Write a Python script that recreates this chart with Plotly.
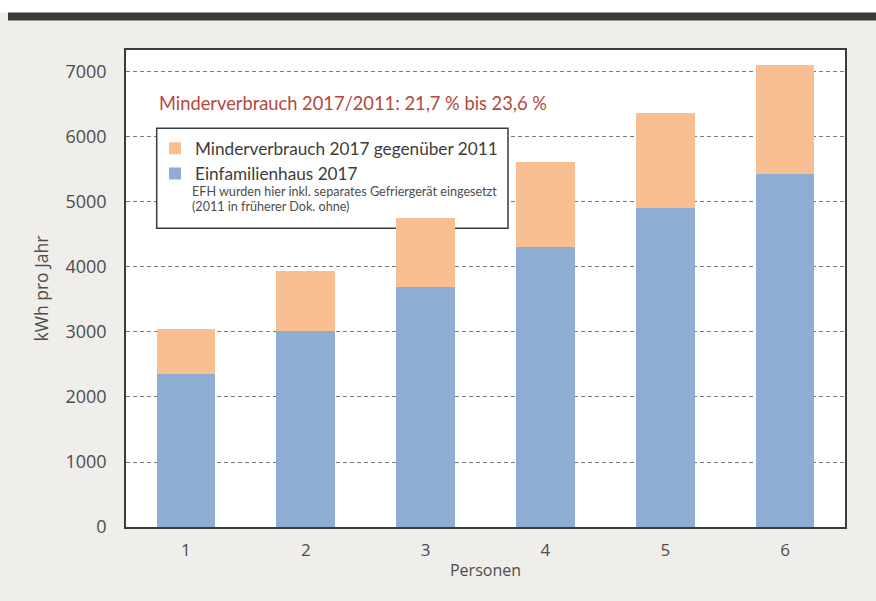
import plotly.graph_objects as go

# ---- data ----
personen = [1, 2, 3, 4, 5, 6]
efh_2017 = [2360, 3015, 3690, 4315, 4900, 5430]          # Einfamilienhaus 2017
minder_2017 = [690, 925, 1070, 1295, 1470, 1670]          # Minderverbrauch 2017 gegenüber 2011
y_ticks = [0, 1000, 2000, 3000, 4000, 5000, 6000, 7000]

# ---- layout constants ----
W, H = 876, 601
ML, MR, MT, MB = 126, 31, 50, 74
PW, PH = W - ML - MR, H - MT - MB
X_RANGE = [0.5, 6.5]
Y_RANGE = [0, 7338]
FONT = "Lato, 'Open Sans', sans-serif"
AXFONT = "'Open Sans', sans-serif"
TXT = "#4d4d4d"
ORANGE = "#f9bf93"
BLUE = "#8fadd3"


def px2x(px):
    return (px - ML) / PW


def py2y(py):
    return (H - MB - py) / PH


def px2dx(px):
    return X_RANGE[0] + px2x(px) * (X_RANGE[1] - X_RANGE[0])


def py2dy(py):
    return Y_RANGE[0] + py2y(py) * (Y_RANGE[1] - Y_RANGE[0])


fig = go.Figure()
fig.add_trace(go.Bar(x=personen, y=efh_2017, name="Einfamilienhaus 2017",
                     marker=dict(color=BLUE, line=dict(width=0))))
fig.add_trace(go.Bar(x=personen, y=minder_2017, name="Minderverbrauch 2017 gegenüber 2011",
                     marker=dict(color=ORANGE, line=dict(width=0))))

shapes = [
    # white strip and dark band at the top of the page
    dict(type="rect", xref="paper", yref="paper", x0=px2x(0), x1=px2x(W), y0=py2y(12.5), y1=py2y(0),
         fillcolor="white", line=dict(width=0), layer="below"),
    dict(type="rect", xref="paper", yref="paper", x0=px2x(8), x1=px2x(W), y0=py2y(20.5), y1=py2y(12.5),
         fillcolor="#3a3a3a", line=dict(width=0), layer="below"),
    # legend box (between grid and bars)
    dict(type="rect", xref="x", yref="y", x0=px2dx(156.7), x1=px2dx(508), y0=py2dy(228.3),
         y1=py2dy(128.3), fillcolor="white", line=dict(color="#3c3c3c", width=1.5), layer="between"),
]

annotations = [
    dict(text="Minderverbrauch 2017/2011: 21,7 % bis 23,6 %", xref="paper", yref="paper",
         x=px2x(157), y=py2y(103), xanchor="left", yanchor="middle", showarrow=False,
         font=dict(family=FONT, size=18.3, color="#b5473b")),
    dict(text="EFH wurden hier inkl. separates Gefriergerät eingesetzt", xref="paper", yref="paper",
         x=px2x(190), y=py2y(191), xanchor="left", yanchor="middle", showarrow=False,
         font=dict(family=FONT, size=12.6, color=TXT)),
    dict(text="(2011 in früherer Dok. ohne)", xref="paper", yref="paper",
         x=px2x(190), y=py2y(207), xanchor="left", yanchor="middle", showarrow=False,
         font=dict(family=FONT, size=12.6, color=TXT)),
]

fig.update_layout(
    width=W, height=H,
    margin=dict(l=ML, r=MR, t=MT, b=MB, pad=0),
    paper_bgcolor="#efeeeb",
    plot_bgcolor="white",
    barmode="stack",
    bargap=0.51,
    font=dict(family=FONT, size=17, color=TXT),
    showlegend=True,
    legend=dict(x=px2x(155), y=py2y(130.5), xanchor="left", yanchor="top",
                traceorder="reversed", bgcolor="rgba(0,0,0,0)", borderwidth=0,
                font=dict(family=FONT, size=17.2, color="#3c3c3c"), tracegroupgap=0),
    shapes=shapes,
    annotations=annotations,
)

fig.update_xaxes(range=X_RANGE, tickvals=personen, ticktext=[str(p) for p in personen],
                 showgrid=False, zeroline=False, showline=True, mirror=True,
                 linecolor="#3c3c3c", linewidth=1.5, ticks="", ticklabelstandoff=7,
                 tickfont=dict(family=AXFONT, size=17, color=TXT),
                 title=dict(text="Personen", standoff=5, font=dict(family=AXFONT, size=16, color=TXT)))
fig.update_yaxes(range=Y_RANGE, tickvals=y_ticks, showgrid=True, gridcolor="#7a7a7a",
                 gridwidth=1, griddash="4px,3px", zeroline=False, showline=True, mirror=True,
                 linecolor="#3c3c3c", linewidth=1.5, ticks="", ticklabelstandoff=14,
                 tickfont=dict(family=AXFONT, size=18, color=TXT),
                 title=dict(text="kWh pro Jahr", standoff=12, font=dict(family=AXFONT, size=17.5, color=TXT)))

fig.write_html("out.html", config={"displayModeBar": False},
               post_script="document.body.style.margin='0';")
